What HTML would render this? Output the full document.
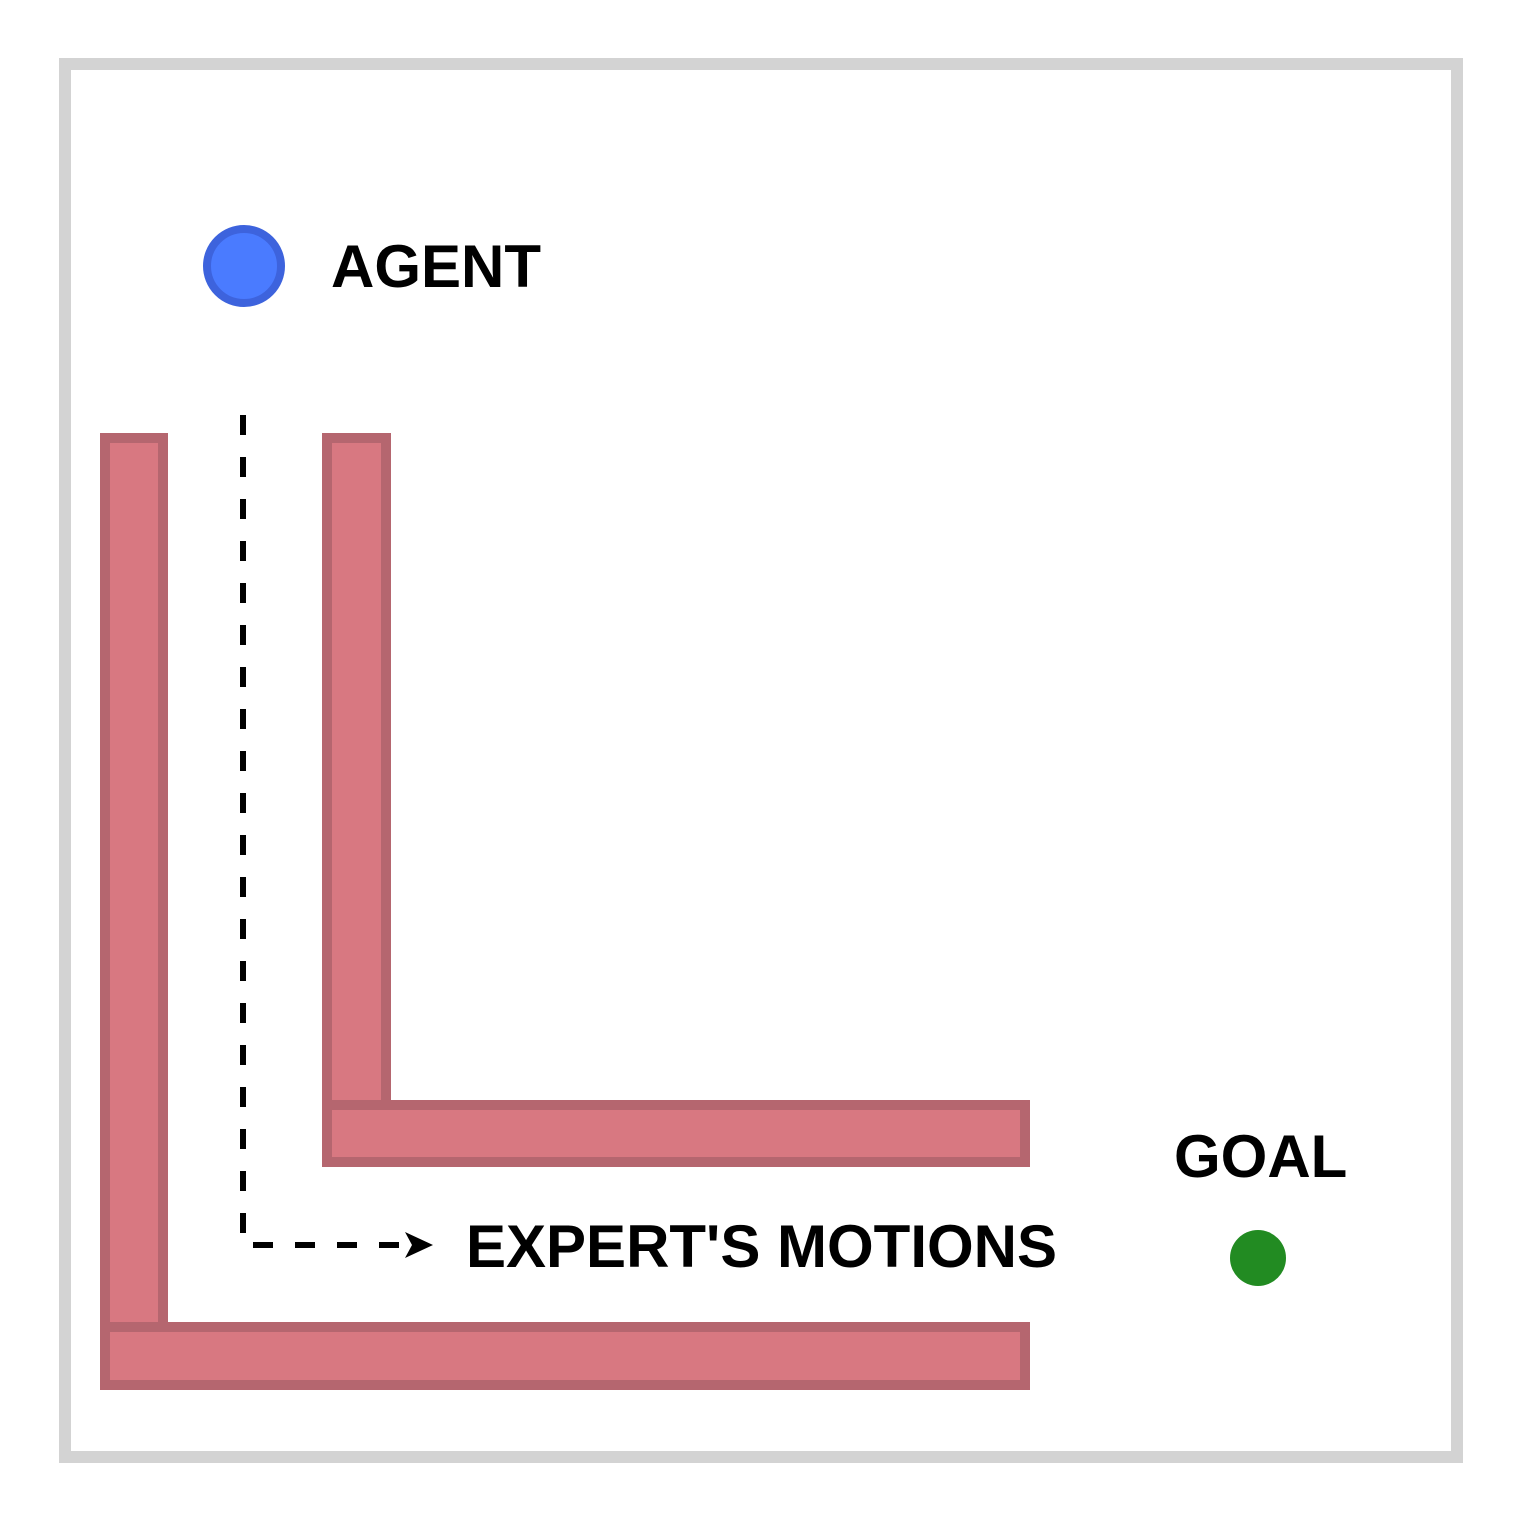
<!DOCTYPE html>
<html><head><meta charset="utf-8"><style>
html,body{margin:0;padding:0;background:#fff;}
svg{display:block;}
text{font-family:"Liberation Sans",Arial,sans-serif;font-weight:bold;fill:#000;}
</style></head><body>
<svg width="1522" height="1523" viewBox="0 0 1522 1523" xmlns="http://www.w3.org/2000/svg">
<rect x="0" y="0" width="1522" height="1523" fill="#fff"/>
<rect x="65" y="64" width="1392" height="1393" fill="#fff" stroke="#d3d3d3" stroke-width="12"/>
<g fill="#d87881" stroke="#b5666f" stroke-width="10">
<rect x="105" y="438" width="58" height="947"/>
<rect x="105" y="1327" width="920" height="58"/>
<rect x="327" y="438" width="59" height="724"/>
<rect x="327" y="1105" width="698" height="57"/>
</g>
<circle cx="244" cy="266" r="37" fill="#4a7bff" stroke="#3d63dd" stroke-width="8"/>
<circle cx="1258" cy="1258" r="28" fill="#228b22"/>
<path d="M243 415 L243 1245 L408 1245" fill="none" stroke="#000" stroke-width="6" stroke-dasharray="20 22"/>
<path d="M433 1245 L405 1232 L412 1245 L405 1258 Z" fill="#000"/>
<text x="331" y="287" font-size="60">AGENT</text>
<text x="466" y="1267" font-size="60">EXPERT'S MOTIONS</text>
<text x="1174" y="1177" font-size="60">GOAL</text>
</svg>
</body></html>
